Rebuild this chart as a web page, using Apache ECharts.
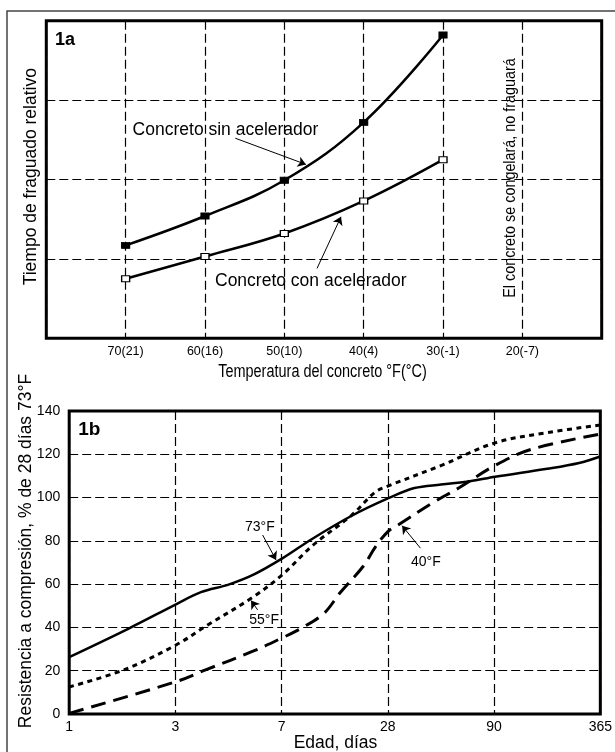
<!DOCTYPE html>
<html>
<head>
<meta charset="utf-8">
<script src="https://cdn.jsdelivr.net/npm/echarts@6/dist/echarts.min.js"></script>
<style>
html,body{margin:0;padding:0;background:#fff;}
#chart{width:615px;height:752px;}
</style>
</head>
<body>
<div id="chart"></div>
<script>
// ---- Chart 1a data ----
const tempF = [70, 60, 50, 40, 30];
const sinAcelerador = [1.17, 1.54, 1.99, 2.72, 3.82];
const conAcelerador = [0.75, 1.03, 1.32, 1.73, 2.25];
const tempTicks = [70, 60, 50, 40, 30, 20];
const tempTickLabels = ['70(21)', '60(16)', '50(10)', '40(4)', '30(-1)', '20(-7)'];

// ---- Chart 1b data (x = position on the age axis, tick index) ----
const ageTickLabels = ['1', '3', '7', '28', '90', '365'];
const f73 = [[0,26.3],[0.56,39.5],[1.01,50.8],[1.24,56.3],[1.5,59.8],[1.74,64.5],[2.01,72],[2.29,81],[2.66,91.6],[3.0,99.6],[3.25,104.4],[3.5,106],[3.77,107.5],[4.01,109.6],[4.5,113.3],[4.8,116],[5.0,119]];
const f55 = [[0,12.5],[0.52,20.5],[1.01,32],[1.29,40.7],[1.73,54],[2.01,64.5],[2.29,77.8],[2.66,91.9],[2.88,102.5],[3.0,105.3],[3.51,115],[4.01,125.3],[4.5,130],[5.0,133.5]];
const f40 = [[0,0.3],[1.01,15],[1.29,20.5],[1.73,29],[2.01,35.3],[2.18,39.5],[2.4,46.6],[2.55,56],[2.77,68.4],[2.88,77],[3.0,84.3],[3.1,87.4],[3.42,97.5],[3.67,104.5],[4.0,114.6],[4.35,122.3],[5.0,129.3]];

const REG = "'Liberation Sans', Arial, sans-serif";

const chart = echarts.init(document.getElementById('chart'), null, {renderer:'canvas'});

const dashGrid = {show:true, lineStyle:{color:'#000', width:1.2, type:[9,4]}};

function arrowLine(from, to){
  return {
    silent:true, symbol:['none','arrow'], symbolSize:8,
    label:{show:false}, emphasis:{disabled:true},
    lineStyle:{color:'#000', width:1, type:'solid'},
    data:[[{coord:from},{coord:to}]]
  };
}

const option = {
  animation:false,
  backgroundColor:'#fff',
  grid:[
    {left:46.3, top:20.7, width:555.4, height:317.6, show:true, borderColor:'#000', borderWidth:3, backgroundColor:'transparent'},
    {left:69.2, top:411, width:533.1, height:303, show:true, borderColor:'#000', borderWidth:3, backgroundColor:'transparent'}
  ],
  xAxis:[
    {gridIndex:0, type:'value', inverse:true, min:10, max:80, interval:10,
     axisLine:{show:false}, axisTick:{show:false}, splitLine:dashGrid,
     axisLabel:{margin:7, color:'#000', fontSize:12.5, fontFamily:REG,
       formatter:function(v){const i=tempTicks.indexOf(v); return i>=0?tempTickLabels[i]:'';}}},
    {gridIndex:1, type:'value', min:0, max:5, interval:1,
     axisLine:{show:false}, axisTick:{show:false}, splitLine:dashGrid,
     axisLabel:{margin:6, color:'#000', fontSize:14, fontFamily:REG,
       formatter:function(v){return ageTickLabels[Math.round(v)];}}}
  ],
  yAxis:[
    {gridIndex:0, type:'value', min:0, max:4, interval:1,
     axisLine:{show:false}, axisTick:{show:false}, axisLabel:{show:false}, splitLine:dashGrid},
    {gridIndex:1, type:'value', min:0, max:140, interval:20,
     axisLine:{show:false}, axisTick:{show:false}, splitLine:dashGrid,
     axisLabel:{margin:9, color:'#000', fontSize:14, fontFamily:REG}}
  ],
  series:[
    {name:'Concreto sin acelerador', type:'line', xAxisIndex:0, yAxisIndex:0, smooth:0.4,
     data:tempF.map((t,i)=>[t, sinAcelerador[i]]),
     symbol:'rect', symbolSize:[8,6], showSymbol:true,
     itemStyle:{color:'#000', borderColor:'#000', borderWidth:1},
     lineStyle:{color:'#000', width:2.5}, z:3,
     markLine:arrowLine([56.18,2.52],[47.28,2.19])},
    {name:'Concreto con acelerador', type:'line', xAxisIndex:0, yAxisIndex:0, smooth:0.4,
     data:tempF.map((t,i)=>[t, conAcelerador[i]]),
     symbol:'rect', symbolSize:[8,6], showSymbol:true,
     itemStyle:{color:'#fff', borderColor:'#000', borderWidth:1.2},
     lineStyle:{color:'#000', width:2.5}, z:3,
     markLine:arrowLine([45.88,0.88],[42.86,1.53])},
    {name:'73°F', type:'line', xAxisIndex:1, yAxisIndex:1, smooth:0.35, showSymbol:false, symbol:'none',
     data:f73, lineStyle:{color:'#000', width:2.5, type:'solid'},
     markLine:arrowLine([1.821,82.7],[1.947,71.2])},
    {name:'55°F', type:'line', xAxisIndex:1, yAxisIndex:1, smooth:0.35, showSymbol:false, symbol:'none',
     data:f55, lineStyle:{color:'#000', width:3, type:[5,4.5], cap:'butt'},
     markLine:arrowLine([1.774,48.1],[1.712,52.4])},
    {name:'40°F', type:'line', xAxisIndex:1, yAxisIndex:1, smooth:0.35, showSymbol:false, symbol:'none',
     data:f40, lineStyle:{color:'#000', width:3, type:[15,8], cap:'butt'},
     markLine:arrowLine([3.307,76.6],[3.134,87.0])}
  ],
  graphic:[
    {type:'rect', shape:{x:7, y:11, width:620, height:760}, style:{fill:'none', stroke:'#444', lineWidth:1.5}, silent:true},
    {type:'text', x:55, y:40.5, style:{text:'1a', font:'bold 18px '+REG, fill:'#000', verticalAlign:'middle'}},
    {type:'text', x:132.6, y:130, style:{text:'Concreto sin acelerador', font:'17.5px '+REG, fill:'#000', verticalAlign:'middle'}},
    {type:'text', x:215, y:281, style:{text:'Concreto con acelerador', font:'17.5px '+REG, fill:'#000', verticalAlign:'middle'}},
    {type:'text', x:510, y:178, rotation:Math.PI/2, scaleX:0.845, style:{text:'El concreto se congelará, no fraguará', font:'17px '+REG, fill:'#000', align:'center', verticalAlign:'middle'}},
    {type:'text', x:31, y:176.7, rotation:Math.PI/2, style:{text:'Tiempo de fraguado relativo', font:'17.5px '+REG, fill:'#000', align:'center', verticalAlign:'middle'}},
    {type:'text', x:322.5, y:372.5, scaleX:0.827, style:{text:'Temperatura del concreto °F(°C)', font:'17.5px '+REG, fill:'#000', align:'center', verticalAlign:'middle'}},
    {type:'text', x:78.3, y:430, style:{text:'1b', font:'bold 19px '+REG, fill:'#000', verticalAlign:'middle'}},
    {type:'text', x:245, y:526.7, style:{text:'73°F', font:'14px '+REG, fill:'#000', verticalAlign:'middle'}},
    {type:'text', x:411, y:561.7, style:{text:'40°F', font:'14px '+REG, fill:'#000', verticalAlign:'middle'}},
    {type:'text', x:249.3, y:620, style:{text:'55°F', font:'14px '+REG, fill:'#000', verticalAlign:'middle'}},
    {type:'text', x:26, y:551, rotation:Math.PI/2, style:{text:'Resistencia a compresión, % de 28 días 73°F', font:'17.5px '+REG, fill:'#000', align:'center', verticalAlign:'middle'}},
    {type:'text', x:335.5, y:743, style:{text:'Edad, días', font:'17.5px '+REG, fill:'#000', align:'center', verticalAlign:'middle'}}
  ]
};
chart.setOption(option);
</script>
</body>
</html>
